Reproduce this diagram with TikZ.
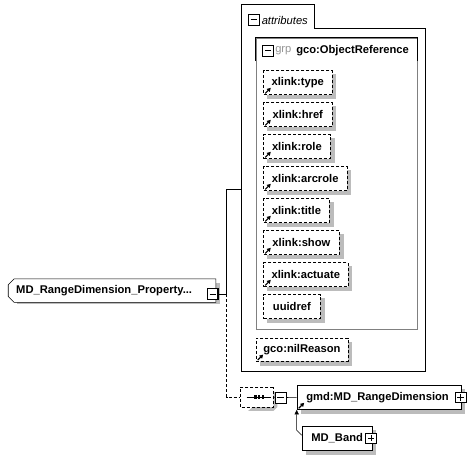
\documentclass[tikz,border=0pt]{standalone}
\usepackage{fontspec}
\setmainfont{Liberation Sans}
\usetikzlibrary{shapes.misc,arrows.meta}
\definecolor{shd}{RGB}{188,188,188}
\definecolor{grpgray}{RGB}{128,128,128}
\definecolor{grptxt}{RGB}{150,150,150}
\pgfdeclarelayer{bg}
\pgfsetlayers{bg,main}
\newcommand\lnkicon[1]{\draw[line width=0.9pt,-{Triangle[length=2.8pt,width=3pt]}] ([shift={(2,-1.5)}]#1.south west) -- ([shift={(7.5,-7)}]#1.south west);}
\newcommand\shad[1]{\begin{pgfonlayer}{bg}\fill[shd] ([shift={(4,4)}]#1.south west) rectangle ([shift={(4,4)}]#1.north east);\end{pgfonlayer}}
\begin{document}
\begin{tikzpicture}[x=0.75pt,y=-0.75pt,line width=0.75pt,
  every node/.style={font=\fontsize{8.4}{10}\selectfont\bfseries},
  dsh/.style={dash pattern=on 2.25pt off 1.5pt},
  attr/.style={draw,dsh,fill=white,anchor=north west,minimum height=18pt,minimum width=#1,inner sep=0pt},
  elem/.style={draw,fill=white,anchor=north west,inner ysep=0pt,align=left},
  mbox/.style={draw,fill=white,minimum size=8pt,inner sep=0pt,
    path picture={\draw[line width=0.75pt] ([xshift=1.6pt]path picture bounding box.west) -- ([xshift=-1.6pt]path picture bounding box.east);}},
  pbox/.style={draw,fill=white,minimum size=8pt,inner sep=0pt,
    path picture={\draw[line width=0.75pt] ([xshift=1.6pt]path picture bounding box.west) -- ([xshift=-1.6pt]path picture bounding box.east);
      \draw[line width=0.75pt] ([yshift=-1.6pt]path picture bounding box.north) -- ([yshift=1.6pt]path picture bounding box.south);}},
  lbl/.style={anchor=west,inner sep=0pt}
]
\begin{pgfonlayer}{bg}
\fill[white] (0,0) rectangle (475,460);
\end{pgfonlayer}
\useasboundingbox (0,0) rectangle (475,460);

% attributes container
\draw (241.7,371.7) -- (241.7,4.7) -- (314.7,4.7) -- (314.7,28) -- (425,28) -- (425,371.7) -- cycle;
\coordinate (attrW) at (241.7,189.3);
\node[mbox] (amin) at (253.7,20) {};
\node[lbl,font=\fontsize{8.4}{10}\selectfont\itshape] (alabel) at (261.5,20) {attributes};

% group box
\node[draw=grpgray,anchor=north west,minimum width=121pt,minimum height=218.5pt,inner sep=0pt] (grp) at (255.7,37.7) {};
\draw (255.7,61) -- (255.7,37.7) -- (417,37.7) -- (417,61);
\node[mbox] (gmin) at (268,50.7) {};
\node[lbl,font=\fontsize{8.4}{10}\selectfont,text=grptxt] (grplbl) at (275,50.7) {grp};
\node[lbl] (grpname) at (296,50.7) {gco:ObjectReference};

% attribute items
\node[attr=51.3pt] (xtype) at (263.3,70.3) {xlink:type};
\node[attr=51.3pt] (xhref) at (263.3,102.3) {xlink:href};
\node[attr=50pt] (xrole) at (263.3,134.3) {xlink:role};
\node[attr=62.5pt] (xarcrole) at (263.3,166.3) {xlink:arcrole};
\node[attr=49.3pt] (xtitle) at (263.3,198.3) {xlink:title};
\node[attr=56.8pt] (xshow) at (263.3,230.3) {xlink:show};
\node[attr=63.3pt] (xactuate) at (263.3,262.3) {xlink:actuate};
\node[attr=42.5pt] (uuidref) at (263.3,294.3) {uuidref};
\node[attr=69pt,minimum height=17.5pt] (nil) at (255.7,337.7) {gco:nilReason};
\foreach \n in {xtype,xhref,xrole,xarcrole,xtitle,xshow,xactuate,uuidref,nil}{\shad{\n}}
\lnkicon{xtype}
\lnkicon{xhref}
\lnkicon{xrole}
\lnkicon{xarcrole}
\lnkicon{xtitle}
\lnkicon{xshow}
\lnkicon{xactuate}
\lnkicon{nil}

% left element
\node[chamfered rectangle,chamfered rectangle corners={north west,south west},chamfered rectangle xsep=2.2pt,chamfered rectangle ysep=2.2pt,
  draw,fill=white,anchor=north west,minimum width=151.3pt,minimum height=17.5pt,inner xsep=3.75pt,inner ysep=0pt,text width=143.8pt,align=left] (root) at (11,281.7) {MD\_RangeDimension\_Property...};
\begin{pgfonlayer}{bg}
\fill[shd] ([shift={(6,4)}]root.south west) rectangle ([shift={(4,4)}]root.north east);
\end{pgfonlayer}
\node[mbox,line width=1.1pt] (rmin) at (212.8,294) {};
\coordinate (j1) at (226.5,294);

% sequence
\node[chamfered rectangle,chamfered rectangle xsep=3pt,chamfered rectangle ysep=3pt,draw,dsh,fill=white,anchor=north west,minimum width=25pt,minimum height=15pt,inner sep=0pt] (seq) at (240,386.7) {};
\begin{pgfonlayer}{bg}
\fill[shd] ([shift={(8,4)}]seq.south west) -- ([shift={(0,4)}]seq.south east) -- ([shift={(4,0)}]seq.south east)
  -- ([shift={(4,8)}]seq.north east) -- ([shift={(0,4)}]seq.north east) -- cycle;
\end{pgfonlayer}
\draw ([shift={(-10,0)}]seq.center) -- ([shift={(14,0)}]seq.center);
\fill ([shift={(-2.5,-1.7)}]seq.center) rectangle ([shift={(0,1.7)}]seq.center);
\fill ([shift={(1.3,-1.7)}]seq.center) rectangle ([shift={(3.8,1.7)}]seq.center);
\fill ([shift={(5.1,-1.7)}]seq.center) rectangle ([shift={(7.6,1.7)}]seq.center);
\node[mbox] (smin) at (280.5,397.5) {};

% child elements
\node[elem,minimum height=18.2pt,inner xsep=7pt,text width=109pt] (gmd) at (296.7,385) {gmd:MD\_RangeDimension};
\shad{gmd}
\node[pbox] (gplus) at ([xshift=-0.5pt]gmd.east) {};
\lnkicon{gmd}
\node[elem,minimum height=18pt,inner xsep=7pt,text width=38.5pt] (band) at (301.7,426) {MD\_Band};
\shad{band}
\node[pbox] (bplus) at ([xshift=-0.9pt]band.east) {};

% connectors
\draw (rmin.east) -- (j1) |- (attrW);
\draw[dsh] (j1) |- (seq.west);
\draw (seq.east) -- (smin.west);
\draw (smin.east) -- (gmd.west);
\draw[-{Triangle[length=3.5pt,width=3.2pt]}] ([shift={(0,-3)}]band.west) -- ([shift={(-5,-8)}]band.west) -- (gmd.south west);
\end{tikzpicture}
\end{document}
